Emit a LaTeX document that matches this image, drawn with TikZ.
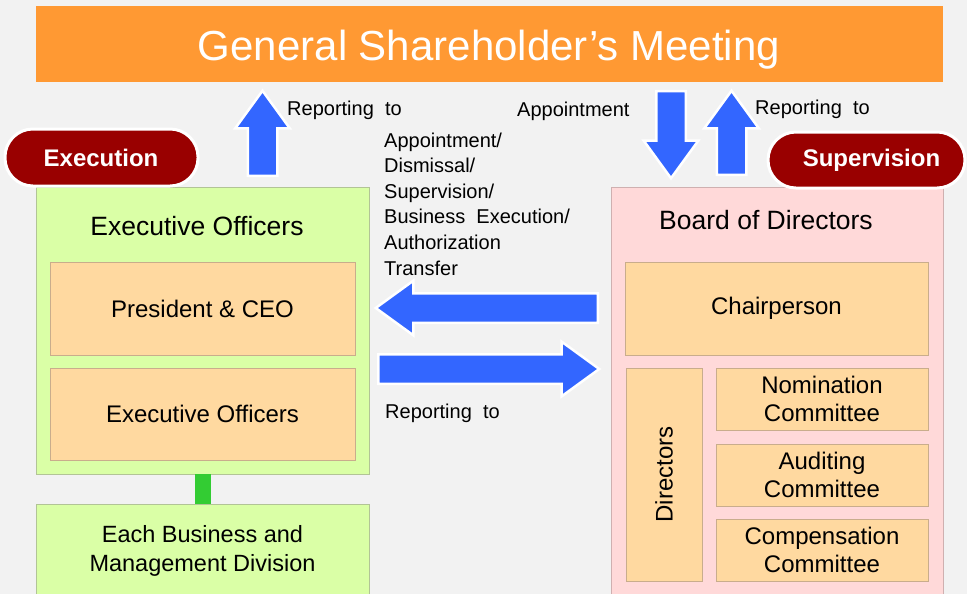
\documentclass[tikz,border=0pt]{standalone}
\usepackage{fontspec}
\setmainfont{Liberation Sans}
\usetikzlibrary{shapes.arrows}

\definecolor{bggray}{HTML}{F2F2F2}
\definecolor{meetorange}{HTML}{FF9933}
\definecolor{execgreen}{HTML}{DAFFA6}
\definecolor{execline}{HTML}{B2C496}
\definecolor{peach}{HTML}{FFD9A0}
\definecolor{peachline}{HTML}{C9AD8C}
\definecolor{boardpink}{HTML}{FFD9D9}
\definecolor{pinkline}{HTML}{CFB0B0}
\definecolor{linkgreen}{HTML}{33CC33}
\definecolor{arrowblue}{HTML}{3366FF}
\definecolor{pillred}{HTML}{990000}

\tikzset{
  greenbox/.style = {draw = execline, fill = execgreen, line width = .8pt, inner sep = 0pt},
  pinkbox/.style = {draw = pinkline, fill = boardpink, line width = .8pt, inner sep = 0pt},
  peachbox/.style = {draw = peachline, fill = peach, line width = .8pt, inner sep = 0pt,
    align = center, font = \fontsize{24}{28}\selectfont},
  pill/.style = {draw = white, fill = pillred, line width = 3pt, rounded corners = 27.9pt,
    inner sep = 0pt},
  pilltext/.style = {text = white, font = \bfseries\fontsize{24}{28}\selectfont},
  bigarrow/.style = {single arrow, fill = arrowblue, draw = white, line width = 2.5pt,
    inner xsep = 0pt, inner ysep = 13.5pt, single arrow head extend = 12.5pt,
    single arrow tip angle = 72, anchor = tail},
  smalltext/.style = {inner sep = 0pt, anchor = base west, font = \fontsize{20}{25.6}\selectfont}
}

\begin{document}
\begin{tikzpicture}
      [x = 1pt, y = -1pt]
      \useasboundingbox (0,0) rectangle (967,594);
      \fill[bggray] (0,0) rectangle (967,594);
      \clip (0,0) rectangle (967,594);

      % meeting banner
      \node[fill = meetorange, minimum width = 907, minimum height = 76, inner sep = 0pt]
        (meeting) at (489.5,44) {};
      \node[anchor = base, inner sep = 0pt, text = white, font = \fontsize{42}{48}\selectfont]
        (meetTitle) at (489,61) {General Shareholder’s Meeting};

      % execution side
      \node[greenbox, minimum width = 333, minimum height = 287] (execBox) at (202.5,330.5) {};
      \node[font = \fontsize{26.5}{30}\selectfont] (execTitle) at (197,226) {Executive Officers};
      \node[peachbox, minimum width = 305, minimum height = 93] (ceo) at (202.5,308.5) {President \& CEO};
      \node[peachbox, minimum width = 305, minimum height = 92] (officers) at (202.5,414) {Executive Officers};
      \node[greenbox, minimum width = 333, minimum height = 94, align = center,
        font = \fontsize{23.5}{29}\selectfont] (division) at (202.5,551)
        {Each Business and\\Management Division};
      \draw[linkgreen, line width = 16pt] (execBox.south) -- (division.north);

      % supervision side
      \node[pinkbox, minimum width = 332, minimum height = 413] (board) at (777,393.5) {};
      \node[font = \fontsize{26.5}{30}\selectfont] (boardTitle) at (766,220) {Board of Directors};
      \node[peachbox, minimum width = 303, minimum height = 93] (chair) at (776.5,308.5) {Chairperson};
      \node[peachbox, minimum width = 76, minimum height = 213] (directors) at (664,474.5)
        {\rotatebox{90}{Directors}};
      \foreach \name/\y/\txt in {nomination/399/Nomination, auditing/475/Auditing,
        compensation/550/Compensation}
        \node[peachbox, minimum width = 212, minimum height = 62] (\name) at (822,\y)
          {\txt\\Committee};

      % labels on top
      \node[pill, minimum width = 193, minimum height = 57] (execution) at (101.5,157.5) {};
      \node[pilltext] (execText) at (101,157.5) {Execution};
      \node[pill, minimum width = 197, minimum height = 56] (supervision) at (866.5,160) {};
      \node[pilltext] (supText) at (871.5,160) {Supervision};

      % block arrows, placed by their tails
      \node[bigarrow, rotate = 90, minimum height = 85] (upExec) at (262.5,177) {};
      \node[bigarrow, rotate = -90, minimum height = 87] (downBoard) at (671,90) {};
      \node[bigarrow, rotate = 90, minimum height = 84] (upBoard) at (731.5,176) {};
      \node[bigarrow, rotate = 180, minimum height = 222] (toExec) at (599,308) {};
      \node[bigarrow, minimum height = 221] (toBoard) at (377,369) {};

      % arrow texts
      \node[smalltext] (repLeft) at (287,115) {Reporting\ \ to};
      \node[smalltext] (appoint) at (517,117) {Appointment};
      \node[smalltext] (repRight) at (755,114) {Reporting\ \ to};
      \node[smalltext, align = left] (powers) at (384,275)
        {Appointment/\\Dismissal/\\Supervision/\\Business\ \ Execution/\\Authorization\\Transfer};
      \node[smalltext] (repMid) at (385,418) {Reporting\ \ to};
    \end{tikzpicture}
\end{document}
